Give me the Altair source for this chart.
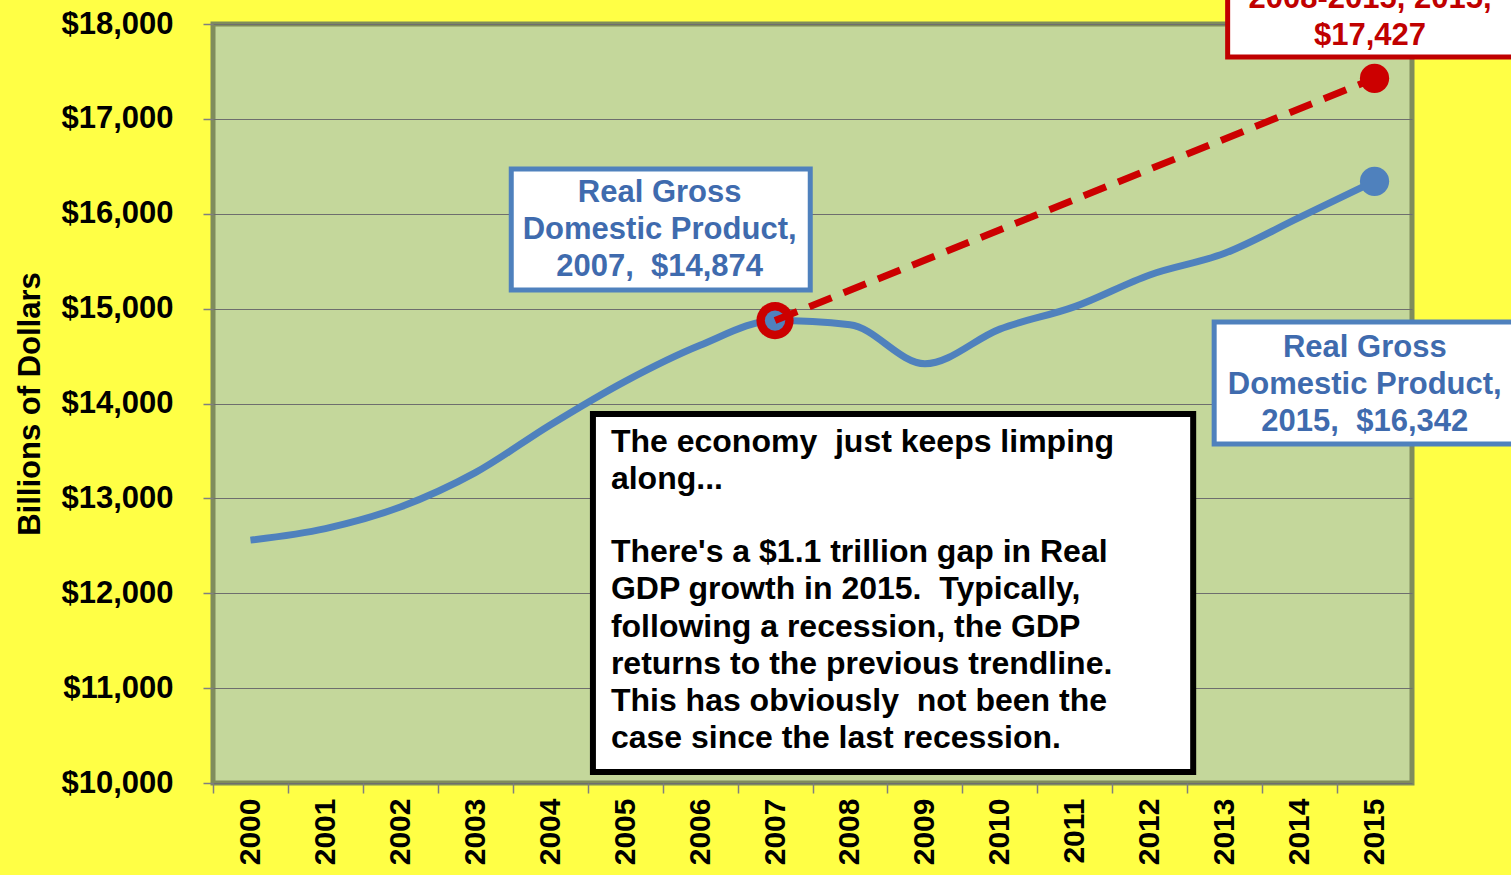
import altair as alt
import pandas as pd

# ---------------- data ----------------
years = list(range(2000, 2016))
gdp = [12560, 12682, 12909, 13271, 13774, 14234, 14614, 14874,
       14830, 14419, 14784, 15021, 15355, 15583, 15962, 16342]
trend_years = [2007, 2015]
trend_gdp = [14874, 17427]
y_ticks = [10000, 11000, 12000, 13000, 14000, 15000, 16000, 17000, 18000]

box1_lines = ["Real Gross", "Domestic Product,", "2007, \u00a0$14,874"]
box2_lines = ["Real Gross", "Domestic Product,", "2015, \u00a0$16,342"]
red_lines = ["2008-2015, 2015,", "$17,427"]
note_lines_a = [
    "The economy \u00a0just keeps limping",
    "along...",
]
note_lines_b = [
    "There's a $1.1 trillion gap in Real",
    "GDP growth in 2015. \u00a0Typically,",
    "following a recession, the GDP",
    "returns to the previous trendline.",
    "This has obviously \u00a0not been the",
    "case since the last recession.",
]

# ---------------- styles ----------------
FONT = "Liberation Sans"
YELLOW = "#FFFF45"
GREEN = "#C4D79B"
BORDER = "#7F8C5C"
BLUE = "#4F81BD"
BLUE_TEXT = "#3F6BAE"
RED = "#CC0000"
W, H = 1199, 759
HALF = W / 16 / 2

gdp_df = pd.DataFrame({"year": years, "gdp": gdp})
trend_df = pd.DataFrame({"year": trend_years, "gdp": trend_gdp})

xscale = alt.Scale(domain=[1999.5, 2015.5], nice=False, zero=False)
yscale = alt.Scale(domain=[10000, 18000], nice=False, zero=False)

xaxis = alt.Axis(
    values=years + [2016], format="d",
    labelExpr="datum.value > 2015 ? '' : datum.label",
    labelAngle=270, labelAlign="right", labelBaseline="middle",
    labelFont=FONT, labelFontSize=30, labelFontWeight="bold", labelColor="black",
    labelPadding=5, tickSize=10, tickColor="#7f7f7f", tickWidth=1.5,
    tickOffset=-HALF, labelOffset=HALF, domain=False, grid=False, title=None,
    labelOverlap=False, labelFlush=False, labelBound=False,
)
yaxis = alt.Axis(
    values=y_ticks, format="$,.0f",
    labelFont=FONT, labelFontSize=31, labelFontWeight="bold", labelColor="black",
    labelPadding=30, tickSize=10, tickColor="#7f7f7f", tickWidth=1.5,
    grid=True, gridColor="#6e6e6e", gridWidth=1, domain=False,
    title="Billions of Dollars", titleFont=FONT, titleFontSize=31,
    titleFontWeight="bold", titleColor="black",
    titleX=-183, titleY=H / 2, titleAngle=270, titleAlign="center",
    titleBaseline="middle", labelOverlap=False,
)


def X(f):
    return alt.X(f"{f}:Q", scale=xscale, axis=xaxis)


def Y(f):
    return alt.Y(f"{f}:Q", scale=yscale, axis=yaxis)


blue_line = alt.Chart(gdp_df).mark_line(
    color=BLUE, strokeWidth=7, interpolate="monotone"
).encode(x=X("year"), y=Y("gdp"))

pt2007 = gdp_df[gdp_df.year == 2007]
pt2015 = gdp_df[gdp_df.year == 2015]
red_end = trend_df[trend_df.year == 2015]

red_ring = alt.Chart(pt2007).mark_circle(color=RED, size=1385, opacity=1).encode(
    x=X("year"), y=Y("gdp"))
blue_inner = alt.Chart(pt2007).mark_circle(color=BLUE, size=415, opacity=1).encode(
    x=X("year"), y=Y("gdp"))
red_line = alt.Chart(trend_df).mark_line(
    color=RED, strokeWidth=7, strokeDash=[24, 13], strokeCap="butt"
).encode(x=X("year"), y=Y("gdp"))
blue_dot = alt.Chart(pt2015).mark_circle(color=BLUE, size=855, opacity=1).encode(
    x=X("year"), y=Y("gdp"))
red_dot = alt.Chart(red_end).mark_circle(color=RED, size=855, opacity=1).encode(
    x=X("year"), y=Y("gdp"))


def box(x1, x2, y1, y2, stroke, sw):
    d = pd.DataFrame({"x": [x1], "x2": [x2], "y": [y1], "y2": [y2]})
    return alt.Chart(d).mark_rect(
        fill="white", stroke=stroke, strokeWidth=sw
    ).encode(x=X("x"), x2="x2:Q", y=Y("y"), y2="y2:Q")


def label(x, y, lines, color, size, align, lh):
    # y is the position of the first line
    d = pd.DataFrame({"x": [x], "y": [y]})
    return alt.Chart(d).mark_text(
        text=lines, color=color, font=FONT, fontSize=size, fontWeight="bold",
        align=align, baseline="middle", lineHeight=lh
    ).encode(x=X("x"), y=Y("y"))


layers = [
    blue_line, red_ring, blue_inner, red_line, blue_dot, red_dot,
    box(2003.48, 2007.47, 16472, 15196, BLUE, 5),
    label(2005.46, 16219, box1_lines, BLUE_TEXT, 31, "center", 37),
    box(2012.86, 2016.95, 14859, 13573, BLUE, 5),
    label(2014.87, 14585, box2_lines, BLUE_TEXT, 31, "center", 37),
    box(2013.04, 2016.95, 18464, 17652, "#C00000", 5),
    label(2014.94, 18265, red_lines, "#C00000", 31, "center", 37),
    box(2004.57, 2012.58, 13889, 10116, "black", 6),
    label(2004.81, 13594, note_lines_a, "black", 32, "left", 37.3),
    label(2004.81, 12435, note_lines_b, "black", 32, "left", 37.3),
]

chart = alt.layer(*layers).properties(
    width=W, height=H,
    autosize=alt.AutoSizeParams(type="none"),
    padding={"left": 213, "top": 24, "right": 99, "bottom": 92},
    background=YELLOW,
).configure_view(fill=GREEN, stroke=BORDER, strokeWidth=5)

chart.save("out.html", embed_options={"renderer": "svg", "actions": False})
